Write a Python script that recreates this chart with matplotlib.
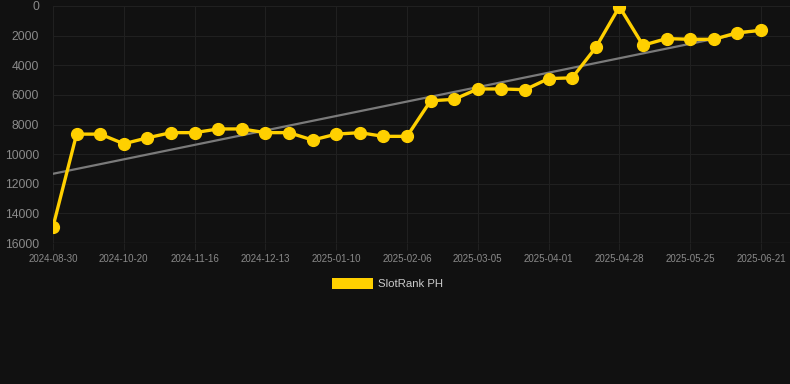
import matplotlib
matplotlib.use("Agg")
import matplotlib.pyplot as plt
from matplotlib.patches import Rectangle
import numpy as np

tick_labels = ["2024-08-30", "2024-10-20", "2024-11-16", "2024-12-13", "2025-01-10",
               "2025-02-06", "2025-03-05", "2025-04-01", "2025-04-28", "2025-05-25",
               "2025-06-21"]
ranks = [14900, 8650, 8650, 9300, 8900, 8550, 8550, 8300, 8300, 8550,
         8550, 9050, 8650, 8550, 8800, 8800, 6400, 6300, 5600, 5600,
         5650, 4900, 4850, 2800, 50, 2650, 2200, 2250, 2250, 1800, 1650]
series_name = "SlotRank PH"

BG = "#111111"
YELLOW = "#FFD000"
GRID = "#202020"
TXT = "#8a8a8a"

fig = plt.figure(figsize=(7.9, 3.84), dpi=100, facecolor=BG)
ax = fig.add_axes([53/790, (384-243)/384, 1 - 53/790, (243-6)/384])
ax.set_facecolor(BG)

x = np.arange(len(ranks))
coef = np.polyfit(x, ranks, 1)
trend = np.polyval(coef, x)
ax.plot(x, trend, color="#7a7a7a", lw=1.6, zorder=2)
ax.plot(x, ranks, color=YELLOW, lw=2.4, marker="o", ms=8.5, zorder=3,
        solid_joinstyle="round")

ax.set_ylim(16000, 0)
ax.set_xlim(0, 30 * 737 / 708)
ax.set_yticks(np.arange(0, 16001, 2000))
tick_pos = x[::3]
ax.set_xticks(tick_pos)
ax.set_xticklabels(tick_labels, family="Liberation Sans", fontsize=7, color=TXT)
ax.tick_params(axis="y", colors=TXT, labelsize=8.7, length=0, pad=10)
ax.tick_params(axis="x", colors=GRID, labelcolor=TXT, length=5, pad=3)
for lab in ax.get_yticklabels():
    lab.set_color(TXT)
    lab.set_family("Liberation Sans")
ax.grid(True, color=GRID, lw=0.8)
for s in ax.spines.values():
    s.set_visible(False)
ax.axhline(16000, color="#2a2a2a", lw=1)

fig.patches.append(Rectangle((332/790, 1 - 289/384), 41/790, 11/384,
                             transform=fig.transFigure, facecolor=YELLOW, edgecolor="none"))
fig.text(378/790, 1 - 284/384, series_name, color="#cccccc", fontsize=8.2,
         family="Liberation Sans", va="center", ha="left")

fig.savefig("out.png", dpi=100, facecolor=BG)
